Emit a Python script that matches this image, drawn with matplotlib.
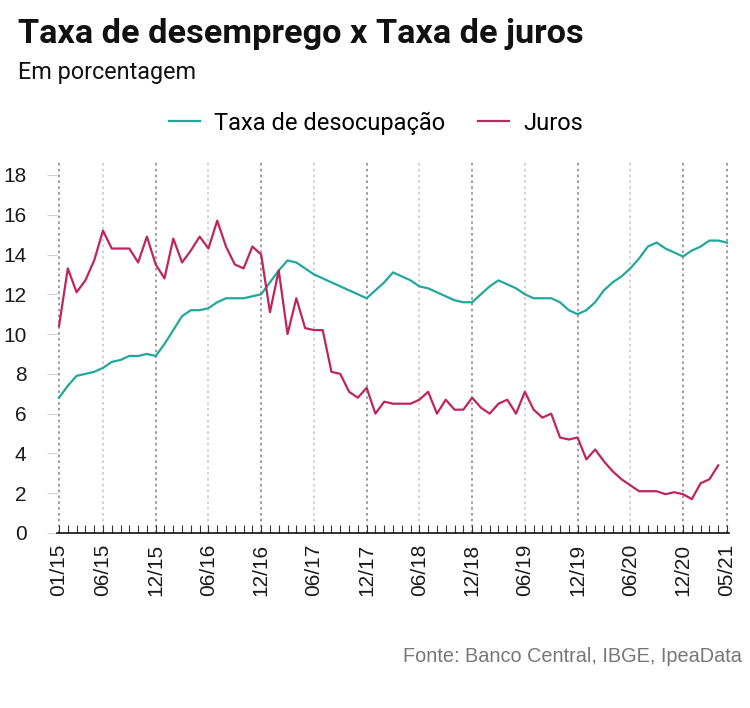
import numpy as np
import matplotlib
matplotlib.use("Agg")
import matplotlib.pyplot as plt

# meses de 01/15 a 05/21
meses = [f"{m:02d}/{a}" for a in range(15, 22) for m in range(1, 13)][:77]

# Taxa de desocupação (IBGE), % - 01/15 a 05/21
desocupacao = [6.8, 7.4, 7.9, 8.0, 8.1, 8.3, 8.6, 8.7, 8.9, 8.9, 9.0, 8.9,
               9.5, 10.2, 10.9, 11.2, 11.2, 11.3, 11.6, 11.8, 11.8, 11.8, 11.9, 12.0,
               12.6, 13.2, 13.7, 13.6, 13.3, 13.0, 12.8, 12.6, 12.4, 12.2, 12.0, 11.8,
               12.2, 12.6, 13.1, 12.9, 12.7, 12.4, 12.3, 12.1, 11.9, 11.7, 11.6, 11.6,
               12.0, 12.4, 12.7, 12.5, 12.3, 12.0, 11.8, 11.8, 11.8, 11.6, 11.2, 11.0,
               11.2, 11.6, 12.2, 12.6, 12.9, 13.3, 13.8, 14.4, 14.6, 14.3, 14.1, 13.9,
               14.2, 14.4, 14.7, 14.7, 14.6]

# Juros, % - 01/15 a 04/21
juros = [10.4, 13.3, 12.1, 12.7, 13.7, 15.2, 14.3, 14.3, 14.3, 13.6, 14.9, 13.5,
         12.8, 14.8, 13.6, 14.2, 14.9, 14.3, 15.7, 14.4, 13.5, 13.3, 14.4, 14.0,
         11.1, 13.2, 10.0, 11.8, 10.3, 10.2, 10.2, 8.1, 8.0, 7.1, 6.8, 7.3,
         6.0, 6.6, 6.5, 6.5, 6.5, 6.7, 7.1, 6.0, 6.7, 6.2, 6.2, 6.8,
         6.3, 6.0, 6.5, 6.7, 6.0, 7.1, 6.2, 5.8, 6.0, 4.8, 4.7, 4.8,
         3.7, 4.2, 3.6, 3.1, 2.7, 2.4, 2.1, 2.1, 2.1, 1.95, 2.05, 1.95,
         1.7, 2.5, 2.7, 3.4]

rotulos = ["01/15", "06/15", "12/15", "06/16", "12/16", "06/17", "12/17",
           "06/18", "12/18", "06/19", "12/19", "06/20", "12/20", "05/21"]

cor_desoc = "#22a89b"
cor_juros = "#c0245f"

fig = plt.figure(figsize=(7.5, 7.08), dpi=100)
ax = fig.add_axes([57 / 750, 1 - 533 / 708, 672 / 750, 370 / 708])

pos = [meses.index(r) for r in rotulos]
for p, r in zip(pos, rotulos):
    if r.startswith("06"):
        ax.axvline(p, color="#c8c8c8", lw=1.2, ls=(0, (1.5, 2)), zorder=1)
    else:
        ax.axvline(p, color="#8a8a8a", lw=1.2, ls=(0, (1.5, 2)), zorder=1)

ax.plot(np.arange(len(desocupacao)), desocupacao, color=cor_desoc, lw=1.6,
        label="Taxa de desocupação", zorder=3)
ax.plot(np.arange(len(juros)), juros, color=cor_juros, lw=1.6,
        label="Juros", zorder=3)

ax.set_xlim(-0.23, 76.23)
ax.set_ylim(0, 18.6)

ax.set_yticks(np.arange(0, 19, 2))
ax.set_xticks(pos)
ax.set_xticklabels(rotulos, rotation=90)
ax.set_xticks(range(len(meses)), minor=True)

ax.tick_params(axis="x", which="both", direction="in", length=6, width=0.8,
               color="#333333", pad=8)
ax.tick_params(axis="y", length=7, width=0.8, color="#d0d0d0", pad=15)
for lab in ax.get_xticklabels() + ax.get_yticklabels():
    lab.set_family("Liberation Sans")
    lab.set_fontsize(15)
    lab.set_color("#1a1a1a")

for s in ["top", "right", "left"]:
    ax.spines[s].set_visible(False)
ax.spines["bottom"].set_color("#111111")
ax.spines["bottom"].set_linewidth(1.2)

fig.text(18 / 750, 1 - 34 / 708, "Taxa de desemprego x Taxa de juros",
         fontsize=24.7, fontweight="bold", family="Roboto", va="center",
         color="#111111")
fig.text(18 / 750, 1 - 73 / 708, "Em porcentagem", fontsize=16.8,
         family="Roboto", va="center", color="#111111")

leg = fig.legend(loc="center", bbox_to_anchor=(376 / 750, 1 - 123 / 708),
                 ncol=2, frameon=False, handlelength=1.3, handletextpad=0.6,
                 columnspacing=1.4, prop={"family": "Roboto", "size": 17})

fig.text(742 / 750, 1 - 657 / 708, "Fonte: Banco Central, IBGE, IpeaData",
         fontsize=14.3, family="Liberation Sans", ha="right", va="center",
         color="#777777")

fig.savefig("out.png", dpi=100)
